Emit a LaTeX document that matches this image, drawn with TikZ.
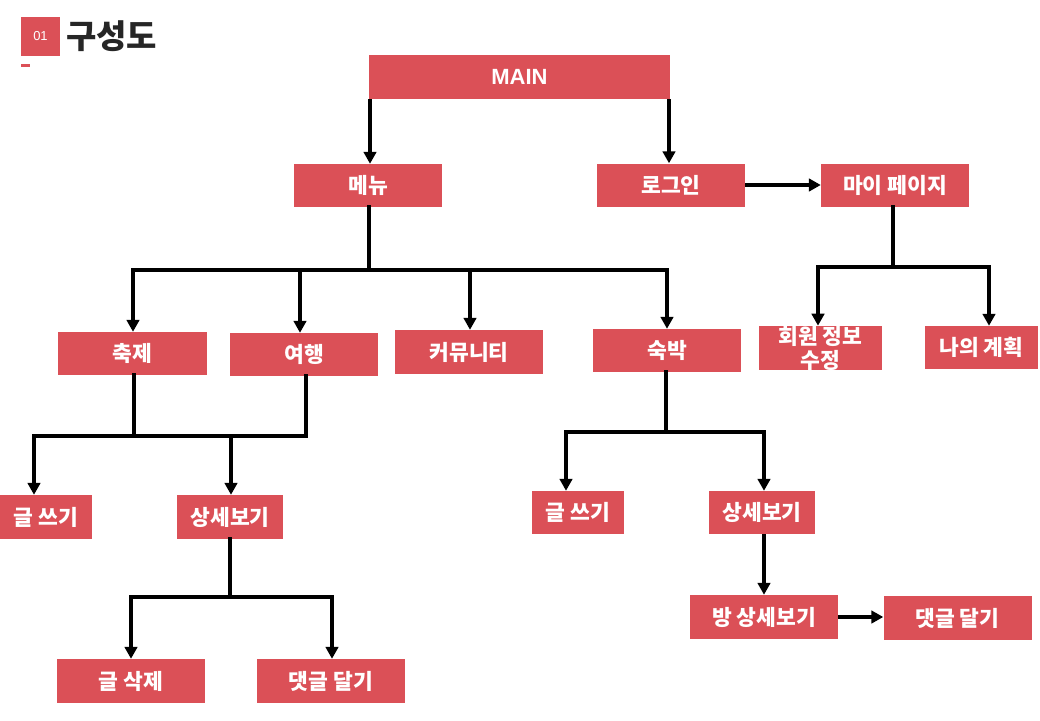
\documentclass[tikz,border=0pt]{standalone}
\usepackage{fontspec}
\setmainfont{Liberation Sans}
\newfontfamily\kr{Noto Sans CJK KR}
\usetikzlibrary{arrows.meta}
\definecolor{boxred}{HTML}{DB5057}
\definecolor{titlegray}{HTML}{262626}
\tikzset{
  box/.style={fill=boxred, draw=none, text=white, inner sep=0pt, align=center,
    font=\kr\bfseries\fontsize{21.5}{25}\selectfont},
  ln/.style={line width=3.6pt, draw=black, line cap=rect},
  arr/.style={line width=3.6pt, draw=black, -{Triangle[length=12pt,width=12.5pt]}},
}
\begin{document}
\begin{tikzpicture}[x=1pt,y=-1pt]
\useasboundingbox (0,0) rectangle (1040,720);
% header
\node[fill=boxred, minimum width=39pt, minimum height=39pt, inner sep=0pt, text=white,
  font=\fontsize{13}{15}\selectfont] (num) at (40.5,36.5) {01};
\fill[boxred] (21,64) rectangle (30,67);
\node[anchor=west, inner sep=0pt, text=titlegray, font=\kr\bfseries\fontsize{33}{36}\selectfont] (title) at (66,36) {구성도};
% boxes
\node[box, minimum width=301pt, minimum height=44pt, font=\bfseries\fontsize{22}{24}\selectfont] (main) at (519.5,77) {MAIN};
\node[box, minimum width=148pt, minimum height=43pt] (menu) at (368,185.5) {메뉴};
\node[box, minimum width=148pt, minimum height=43pt] (login) at (671,185) {로그인};
\node[box, minimum width=148pt, minimum height=43pt] (mypage) at (895,185.5) {마이 페이지};
\node[box, minimum width=149pt, minimum height=43pt] (fest) at (132.5,353.5) {축제};
\node[box, minimum width=148pt, minimum height=43pt] (trip) at (304,354.5) {여행};
\node[box, minimum width=148pt, minimum height=44pt] (comm) at (469,352) {커뮤니티};
\node[box, minimum width=148pt, minimum height=43pt] (stay) at (667,350.5) {숙박};
\node[box, minimum width=123pt, minimum height=44pt] (info) at (820.5,348) {회원 정보\\[-1pt]수정};
\node[box, minimum width=113pt, minimum height=43pt] (plan) at (981.5,347.5) {나의 계획};
\node[box, minimum width=92pt, minimum height=44pt] (lwrite) at (46,517) {글 쓰기};
\node[box, minimum width=106pt, minimum height=44pt] (ldetail) at (230,517) {상세보기};
\node[box, minimum width=92pt, minimum height=43pt] (rwrite) at (578,512.5) {글 쓰기};
\node[box, minimum width=106pt, minimum height=43pt] (rdetail) at (762,512.5) {상세보기};
\node[box, minimum width=148pt, minimum height=44pt] (room) at (764,617) {방 상세보기};
\node[box, minimum width=148pt, minimum height=44pt] (rcomment) at (957.5,618) {댓글 달기};
\node[box, minimum width=148pt, minimum height=44pt] (delete) at (131,681) {글 삭제};
\node[box, minimum width=148pt, minimum height=44pt] (lcomment) at (331,681) {댓글 달기};
% bus coordinates
\coordinate (b1a) at (133,270); \coordinate (b1b) at (300,270);
\coordinate (b1c) at (470,270); \coordinate (b1d) at (667,270);
\coordinate (b2a) at (818,267); \coordinate (b2b) at (989,267);
\coordinate (b3a) at (34,436);  \coordinate (b3b) at (231,436);
\coordinate (b4a) at (566,432); \coordinate (b4b) at (764,432);
\coordinate (b5a) at (131,597); \coordinate (b5b) at (332,597);
% connectors
\draw[arr] (main.south -| 370,0) -- (menu.north -| 370,0);
\draw[arr] (main.south -| 669,0) -- (login.north -| 669,0);
\draw[arr] (login.east) -- (login.east -| mypage.west);
% menu tree
\draw[ln] (menu.south -| 369,0) -- (b1a -| 369,0);
\draw[ln] (b1a) -- (b1d);
\draw[arr] (b1a) -- (b1a |- fest.north);
\draw[arr] (b1b) -- (b1b |- trip.north);
\draw[arr] (b1c) -- (b1c |- comm.north);
\draw[arr] (b1d) -- (b1d |- stay.north);
% mypage tree
\draw[ln] (mypage.south -| 893,0) -- (b2a -| 893,0);
\draw[ln] (b2a) -- (b2b);
\draw[arr] (b2a) -- (b2a |- info.north);
\draw[arr] (b2b) -- (b2b |- plan.north);
% fest / trip tree
\draw[ln] (fest.south -| 134,0) -- (b3a -| 134,0);
\draw[ln] (trip.south -| 306,0) -- (b3a -| 306,0);
\draw[ln] (b3a) -- (b3a -| 306,0);
\draw[arr] (b3a) -- (b3a |- lwrite.north);
\draw[arr] (b3b) -- (b3b |- ldetail.north);
% stay tree
\draw[ln] (stay.south -| 666,0) -- (b4a -| 666,0);
\draw[ln] (b4a) -- (b4b);
\draw[arr] (b4a) -- (b4a |- rwrite.north);
\draw[arr] (b4b) -- (b4b |- rdetail.north);
% right detail
\draw[arr] (rdetail.south -| 764,0) -- (room.north -| 764,0);
\draw[arr] (room.east) -- (room.east -| rcomment.west);
% left detail tree
\draw[ln] (ldetail.south -| 230,0) -- (b5a -| 230,0);
\draw[ln] (b5a) -- (b5b);
\draw[arr] (b5a) -- (b5a |- delete.north);
\draw[arr] (b5b) -- (b5b |- lcomment.north);
\end{tikzpicture}
\end{document}
